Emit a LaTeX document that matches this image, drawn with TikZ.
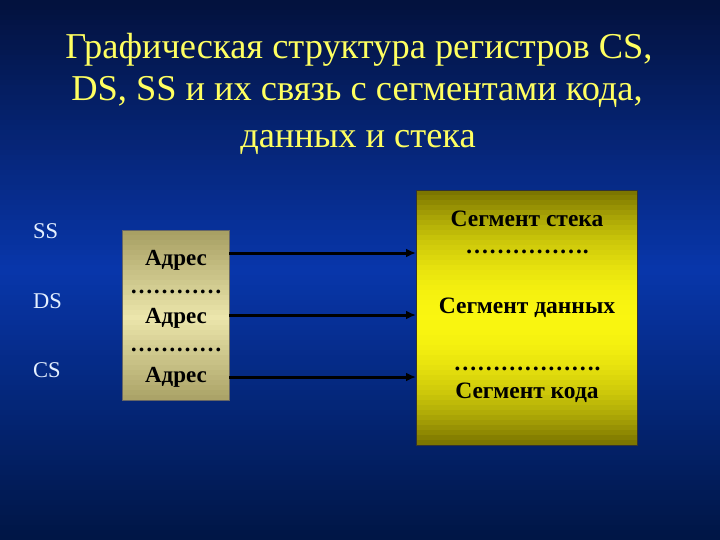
\documentclass[tikz,border=0pt]{standalone}
\usepackage{fontspec}
\setmainfont{Liberation Serif}
\usetikzlibrary{positioning}
\usetikzlibrary{arrows.meta}
\definecolor{NavyTop}{RGB}{3,18,62}
\definecolor{NavyMid}{RGB}{8,54,170}
\definecolor{NavyBot}{RGB}{0,22,70}
\definecolor{TitleYellow}{RGB}{255,255,96}
\definecolor{RegWhite}{RGB}{228,240,255}
\definecolor{KhakiDark}{RGB}{168,160,100}
\definecolor{KhakiLight}{RGB}{236,230,172}
\definecolor{OliveDark}{RGB}{124,118,0}
\definecolor{SegYellow}{RGB}{250,246,16}
\tikzset{
  headline/.style={text=TitleYellow,anchor=base,inner sep=0pt,font=\fontsize{36.4}{40}\selectfont},
  reglabel/.style={text=RegWhite,anchor=base west,inner sep=0pt,font=\fontsize{22.5}{24}\selectfont},
  adrtext/.style={anchor=base,inner sep=0pt,font=\bfseries\fontsize{23}{24}\selectfont},
  segtext/.style={anchor=base,inner sep=0pt,font=\bfseries\fontsize{23.5}{24}\selectfont},
  pointer/.style={line width=3pt,-{Latex[length=10pt,width=9pt]}}
}

\begin{document}
\begin{tikzpicture}[x=1pt,y=-1pt]
  \useasboundingbox (0,0) rectangle (720,540);

  % background, dark - bright - dark
  \foreach \i in {0,...,53}{
    \pgfmathtruncatemacro{\mix}{\i*100/53}
    \fill[NavyMid!\mix!NavyTop] (0,\i*5) rectangle (720,\i*5+5.5);
  }
  \foreach \i in {54,...,107}{
    \pgfmathtruncatemacro{\mix}{(107-\i)*100/53}
    \fill[NavyMid!\mix!NavyBot] (0,\i*5) rectangle (720,\i*5+5.5);
  }

  % title
  \node[headline] (t1) at (359,59) {Графическая структура регистров CS,};
  \node[headline] (t2) at (357,101) {DS, SS и их связь с сегментами кода,};
  \node[headline] (t3) at (358,148) {данных и стека};

  % registers
  \node[reglabel] (ss) at (33,239) {SS};
  \node[reglabel] (ds) at (33,308) {DS};
  \node[reglabel] (cs) at (33,377) {CS};

  % address block
  \foreach \i in {0,...,33}{
    \pgfmathtruncatemacro{\mix}{100-abs(\i-17)*100/17}
    \fill[KhakiLight!\mix!KhakiDark] (122,230+\i*5) rectangle (229,235.5+\i*5);
  }
  \draw[black!60] (122,230) rectangle (229,400);
  \node[adrtext] (adr1) at (176,265) {Адрес};
  \node[adrtext] (dot1) at (176,293) {…………};
  \node[adrtext] (adr2) at (176,323) {Адрес};
  \node[adrtext] (dot2) at (176,351) {…………};
  \node[adrtext] (adr3) at (176,382) {Адрес};

  % segments
  \foreach \i in {0,...,50}{
    \pgfmathtruncatemacro{\mix}{100-(\i-25)*(\i-25)/6.25}
    \fill[SegYellow!\mix!OliveDark] (416,190+\i*5) rectangle (637,195.5+\i*5);
  }
  \draw[black!80] (416,190) rectangle (637,445);
  \node[segtext] (stk) at (527,226) {Сегмент стека};
  \node[segtext] (dot3) at (527,254) {…………….};
  \node[segtext] (dat) at (527,313) {Сегмент данных};
  \node[segtext] (dot4) at (527,370) {……………….};
  \node[segtext] (cod) at (527,398) {Сегмент кода};

  \coordinate (p1) at (229,253);
  \coordinate (p2) at (229,315);
  \coordinate (p3) at (229,377);
  \coordinate (q1) at (416,253);
  \coordinate (q2) at (416,315);
  \coordinate (q3) at (416,377);
  \draw[pointer] (p1) -- (q1);
  \draw[pointer] (p2) -- (q2);
  \draw[pointer] (p3) -- (q3);
\end{tikzpicture}
\end{document}
